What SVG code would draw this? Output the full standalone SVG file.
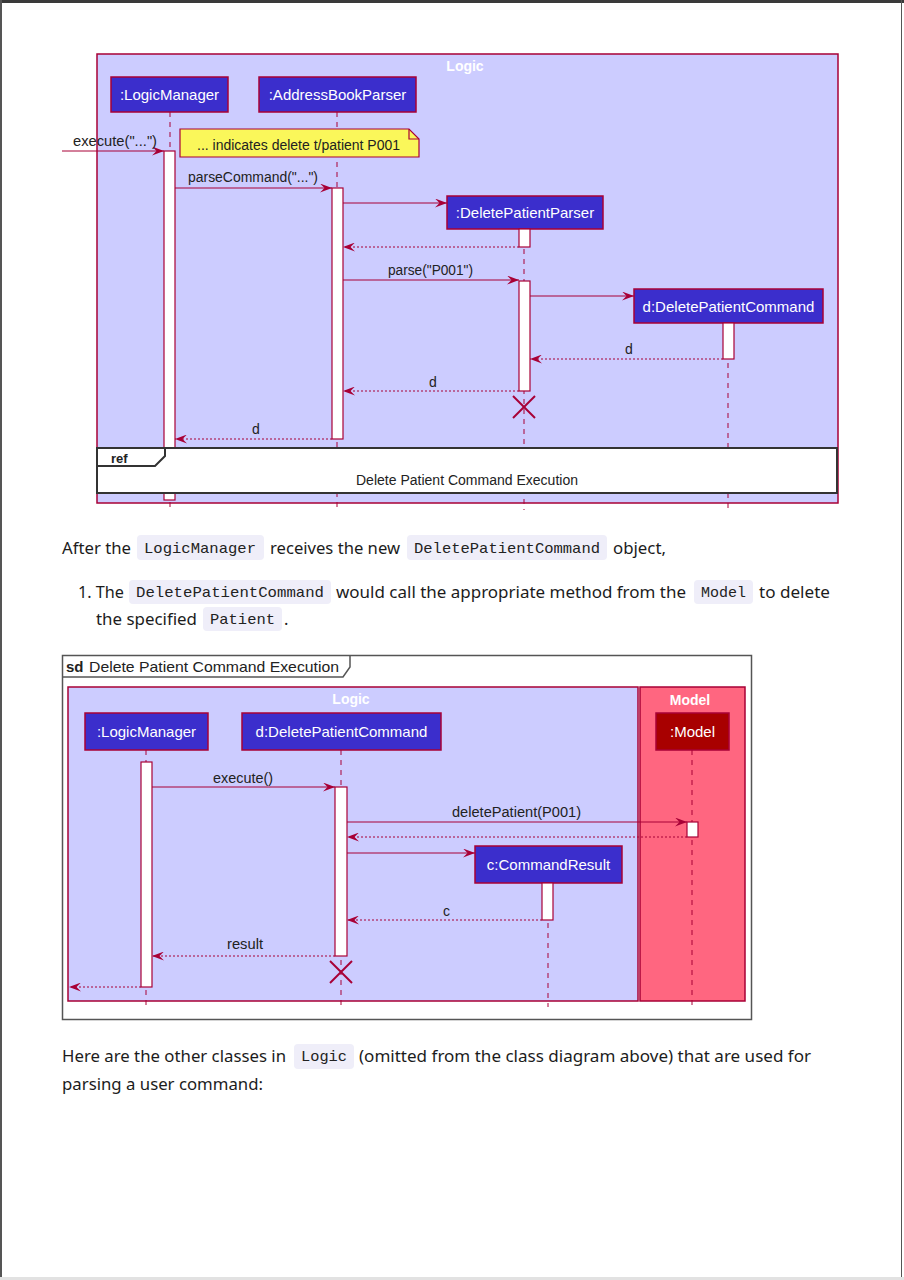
<svg xmlns="http://www.w3.org/2000/svg" width="904" height="1280" viewBox="0 0 904 1280">
<defs>
<marker id="arr" viewBox="0 0 12 9" refX="12" refY="4.5" markerWidth="12" markerHeight="9" markerUnits="userSpaceOnUse" orient="auto">
<path d="M0,0 L12,4.5 L0,9 L4.5,4.5 Z" fill="#A80036"/>
</marker>
</defs>
<style>
.box{fill:#CCCCFF;stroke:#A80036;stroke-width:1.5}
.mbox{fill:#FF6680;stroke:#A80036;stroke-width:1.5}
.part{fill:#3B2ECC;stroke:#A80036;stroke-width:1.5}
.mpart{fill:#A80000;stroke:#A80036;stroke-width:1.5}
.ptxt{font-family:"Liberation Sans",Arial,sans-serif;font-size:15px;fill:#FFFFFF;text-anchor:middle}
.title{font-family:"Liberation Sans",Arial,sans-serif;font-size:14px;font-weight:bold;fill:#FFFFFF;text-anchor:middle}
.life{stroke:#A80036;stroke-width:1;stroke-dasharray:5,5;fill:none}
.act{fill:#FFFFFF;stroke:#A80036;stroke-width:1.2}
.msg{stroke:#A80036;stroke-width:1;fill:none}
.ret{stroke:#A80036;stroke-width:1;stroke-dasharray:2,2;fill:none}
.lbl{font-family:"Liberation Sans",Arial,sans-serif;font-size:14px;fill:#222222}
.x{stroke:#A80036;stroke-width:2}
.body{font-family:"Noto Sans","Open Sans",sans-serif;font-size:16.5px;fill:#1c1c1c}
.code{font-family:"Liberation Mono","DejaVu Sans Mono",monospace;font-size:15px;fill:#222222}
.cbg{fill:#EFEEF9}
</style>
<rect x="0" y="0" width="904" height="1280" fill="#FFFFFF"/>
<rect x="0" y="0" width="904" height="3" fill="#3a3a3a"/>
<rect x="0" y="0" width="2" height="1280" fill="#555555"/>
<rect x="901" y="0" width="1" height="1280" fill="#555555"/>
<rect x="0" y="1277" width="904" height="3" fill="#e2e2e2"/>

<!-- Top diagram -->
<g id="top-logic-box">
<rect class="box" x="97" y="54" width="741" height="449"/>
<text class="title" x="465" y="71">Logic</text>
</g>
<g id="top-lifelines">
<line class="life" x1="170" y1="112" x2="170" y2="510"/>
<line class="life" x1="337" y1="112" x2="337" y2="510"/>
<line class="life" x1="524" y1="229" x2="524" y2="510"/>
<line class="life" x1="728" y1="323" x2="728" y2="510"/>
</g>
<g id="top-LogicManager">
<rect class="part" x="111" y="77" width="117" height="35"/>
<text class="ptxt" x="169.5" y="100">:LogicManager</text>
<rect class="act" x="164" y="151" width="11" height="349"/>
</g>
<g id="top-AddressBookParser">
<rect class="part" x="259" y="77" width="157" height="35"/>
<text class="ptxt" x="337.5" y="100">:AddressBookParser</text>
<rect class="act" x="332" y="188" width="11" height="251"/>
</g>
<g id="top-DeletePatientParser">
<rect class="part" x="447" y="196" width="156" height="33"/>
<text class="ptxt" x="525" y="218">:DeletePatientParser</text>
<rect class="act" x="519" y="229" width="11" height="18"/>
<rect class="act" x="519" y="281" width="11" height="110"/>
</g>
<g id="top-DeletePatientCommand">
<rect class="part" x="634" y="289" width="189" height="34"/>
<text class="ptxt" x="728.5" y="312">d:DeletePatientCommand</text>
<rect class="act" x="723" y="323" width="11" height="36"/>
</g>
<g id="top-note">
<path d="M180,129 L409,129 L419,139 L419,157 L180,157 Z" fill="#FAF75A" stroke="#A80036" stroke-width="1.2"/>
<path d="M409,129 L409,139 L419,139" fill="none" stroke="#A80036" stroke-width="1.2"/>
<text class="lbl" x="197" y="150" textLength="203" lengthAdjust="spacingAndGlyphs">... indicates delete t/patient P001</text>
</g>
<g id="top-connectors">
<line class="msg" x1="62" y1="151" x2="164" y2="151" marker-end="url(#arr)"/>
<text class="lbl" x="73" y="146" textLength="84" lengthAdjust="spacingAndGlyphs">execute("...")</text>
<line class="msg" x1="175" y1="188" x2="332" y2="188" marker-end="url(#arr)"/>
<text class="lbl" x="188" y="182" textLength="130" lengthAdjust="spacingAndGlyphs">parseCommand("...")</text>
<line class="msg" x1="343" y1="203" x2="447" y2="203" marker-end="url(#arr)"/>
<line class="ret" x1="519" y1="247" x2="343" y2="247" marker-end="url(#arr)"/>
<line class="msg" x1="343" y1="280" x2="519" y2="280" marker-end="url(#arr)"/>
<text class="lbl" x="388" y="275" textLength="85" lengthAdjust="spacingAndGlyphs">parse("P001")</text>
<line class="msg" x1="530" y1="296" x2="634" y2="296" marker-end="url(#arr)"/>
<line class="ret" x1="723" y1="359" x2="530" y2="359" marker-end="url(#arr)"/>
<text class="lbl" x="625" y="354">d</text>
<line class="ret" x1="519" y1="391" x2="343" y2="391" marker-end="url(#arr)"/>
<text class="lbl" x="429" y="387">d</text>
<line class="x" x1="513" y1="396" x2="535" y2="418"/>
<line class="x" x1="535" y1="396" x2="513" y2="418"/>
<line class="ret" x1="332" y1="439" x2="175" y2="439" marker-end="url(#arr)"/>
<text class="lbl" x="252" y="434">d</text>
</g>
<g id="top-ref">
<rect x="97" y="448" width="740" height="45" fill="#FFFFFF" stroke="#333333" stroke-width="2"/>
<path d="M97,466 L155,466 L165,456 L165,448" fill="none" stroke="#333333" stroke-width="2"/>
<text x="111" y="463" font-family="Liberation Sans,Arial,sans-serif" font-size="13px" font-weight="bold" fill="#222222">ref</text>
<text class="lbl" x="467" y="485" text-anchor="middle" textLength="222" lengthAdjust="spacingAndGlyphs">Delete Patient Command Execution</text>
</g>

<!-- Body text -->
<g id="text-para1">
<rect class="cbg" x="137" y="535" width="127" height="25" rx="4"/>
<rect class="cbg" x="407" y="535" width="200" height="25" rx="4"/>
<text class="body" x="62" y="554" textLength="69" lengthAdjust="spacingAndGlyphs">After the</text>
<text class="code" x="144" y="553" textLength="112" lengthAdjust="spacingAndGlyphs">LogicManager</text>
<text class="body" x="270" y="554" textLength="130" lengthAdjust="spacingAndGlyphs">receives the new</text>
<text class="code" x="414" y="553" textLength="186" lengthAdjust="spacingAndGlyphs">DeletePatientCommand</text>
<text class="body" x="613" y="554" textLength="53" lengthAdjust="spacingAndGlyphs">object,</text>
</g>
<g id="text-item1">
<rect class="cbg" x="129" y="580" width="202" height="24" rx="4"/>
<rect class="cbg" x="694" y="580" width="59" height="24" rx="4"/>
<rect class="cbg" x="203" y="607" width="79" height="24" rx="4"/>
<text class="body" x="78" y="598" textLength="46" lengthAdjust="spacingAndGlyphs">1. The</text>
<text class="code" x="136" y="597" textLength="188" lengthAdjust="spacingAndGlyphs">DeletePatientCommand</text>
<text class="body" x="336" y="598" textLength="350" lengthAdjust="spacingAndGlyphs">would call the appropriate method from the</text>
<text class="code" x="701" y="597" textLength="45" lengthAdjust="spacingAndGlyphs">Model</text>
<text class="body" x="759" y="598" textLength="71" lengthAdjust="spacingAndGlyphs">to delete</text>
<text class="body" x="96" y="625" textLength="101" lengthAdjust="spacingAndGlyphs">the specified</text>
<text class="code" x="210" y="624" textLength="65" lengthAdjust="spacingAndGlyphs">Patient</text>
<text class="body" x="284" y="625">.</text>
</g>

<!-- Bottom diagram -->
<g id="sd-frame">
<rect x="62.5" y="655.5" width="689" height="364" fill="#FFFFFF" stroke="#555555" stroke-width="1.5"/>
<path d="M62.5,677 L343,677 L350,667 L350,655.5" fill="none" stroke="#555555" stroke-width="1.5"/>
<text x="66" y="672" font-family="Liberation Sans,Arial,sans-serif" font-size="15px" font-weight="bold" fill="#222222">sd</text>
<text x="89" y="672" font-family="Liberation Sans,Arial,sans-serif" font-size="15px" fill="#222222" textLength="250" lengthAdjust="spacingAndGlyphs">Delete Patient Command Execution</text>
</g>
<g id="bottom-logic-box">
<rect class="box" x="68" y="687" width="570" height="314"/>
<text class="title" x="351" y="704">Logic</text>
</g>
<g id="bottom-model-box">
<rect class="mbox" x="640" y="687" width="105" height="314"/>
<text class="title" x="690" y="705">Model</text>
</g>
<g id="bottom-lifelines">
<line class="life" x1="146" y1="750" x2="146" y2="1007"/>
<line class="life" x1="341" y1="750" x2="341" y2="1007"/>
<line class="life" x1="548" y1="883" x2="548" y2="1007"/>
<line class="life" x1="692" y1="750" x2="692" y2="1007"/>
</g>
<g id="bottom-LogicManager">
<rect class="part" x="85" y="713" width="123" height="37"/>
<text class="ptxt" x="146.5" y="737">:LogicManager</text>
<rect class="act" x="141" y="762" width="11" height="225"/>
</g>
<g id="bottom-DeletePatientCommand">
<rect class="part" x="242" y="713" width="199" height="37"/>
<text class="ptxt" x="341.5" y="737">d:DeletePatientCommand</text>
<rect class="act" x="335" y="787" width="12" height="169"/>
</g>
<g id="bottom-Model">
<rect class="mpart" x="656" y="713" width="73" height="37"/>
<text class="ptxt" x="692.5" y="737">:Model</text>
<rect class="act" x="687" y="822" width="11" height="15"/>
</g>
<g id="bottom-CommandResult">
<rect class="part" x="475" y="846" width="147" height="37"/>
<text class="ptxt" x="548.5" y="870">c:CommandResult</text>
<rect class="act" x="542" y="883" width="11" height="37"/>
</g>
<g id="bottom-connectors">
<line class="msg" x1="152" y1="787" x2="335" y2="787" marker-end="url(#arr)"/>
<text class="lbl" x="213" y="783" textLength="60" lengthAdjust="spacingAndGlyphs">execute()</text>
<line class="msg" x1="347" y1="822" x2="687" y2="822" marker-end="url(#arr)"/>
<text class="lbl" x="452" y="817" textLength="129" lengthAdjust="spacingAndGlyphs">deletePatient(P001)</text>
<line class="ret" x1="687" y1="837" x2="347" y2="837" marker-end="url(#arr)"/>
<line class="msg" x1="347" y1="853" x2="475" y2="853" marker-end="url(#arr)"/>
<line class="ret" x1="542" y1="920" x2="347" y2="920" marker-end="url(#arr)"/>
<text class="lbl" x="443" y="916">c</text>
<line class="ret" x1="335" y1="956" x2="152" y2="956" marker-end="url(#arr)"/>
<text class="lbl" x="227" y="949" textLength="36" lengthAdjust="spacingAndGlyphs">result</text>
<line class="x" x1="330" y1="961" x2="352" y2="983"/>
<line class="x" x1="352" y1="961" x2="330" y2="983"/>
<line class="ret" x1="141" y1="987" x2="69" y2="987" marker-end="url(#arr)"/>
</g>

<g id="text-para2">
<rect class="cbg" x="294" y="1044" width="60" height="25" rx="4"/>
<text class="body" x="62" y="1062" textLength="224" lengthAdjust="spacingAndGlyphs">Here are the other classes in</text>
<text class="code" x="301" y="1061" textLength="46" lengthAdjust="spacingAndGlyphs">Logic</text>
<text class="body" x="359" y="1062" textLength="452" lengthAdjust="spacingAndGlyphs">(omitted from the class diagram above) that are used for</text>
<text class="body" x="62" y="1090" textLength="201" lengthAdjust="spacingAndGlyphs">parsing a user command:</text>
</g>
</svg>
